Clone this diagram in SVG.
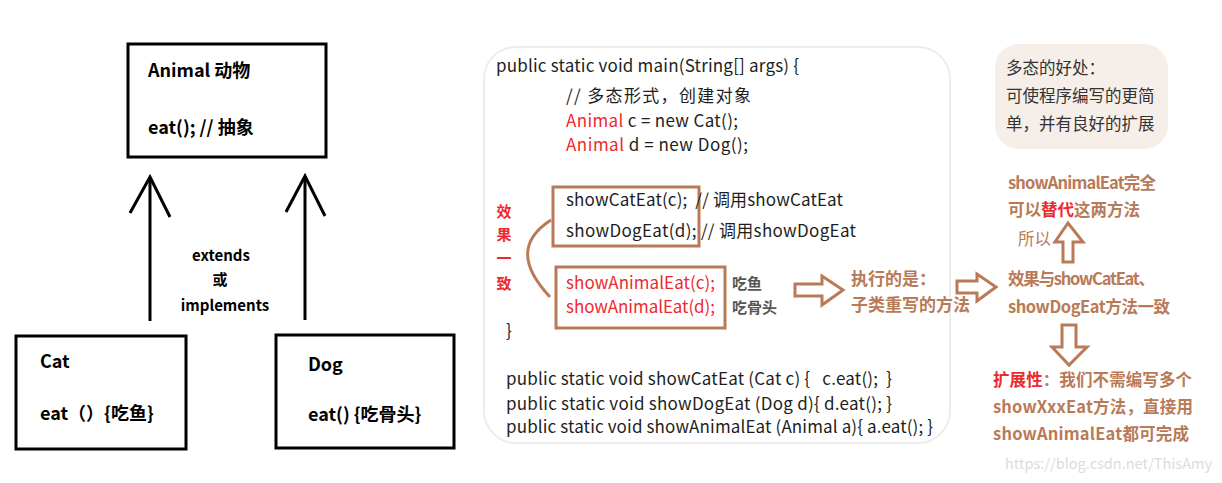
<svg xmlns="http://www.w3.org/2000/svg" width="1222" height="483" viewBox="0 0 1222 483">
<style>
  text { font-family: "Noto Sans CJK SC", "Noto Sans", sans-serif; white-space: pre; }
  .box { fill: #fff; stroke: #000; stroke-width: 3; }
  .bt { font-size: 18px; font-weight: bold; fill: #000; }
  .lbl { font-size: 15px; font-weight: bold; fill: #000; }
  .code { font-size: 17px; fill: #1e1e1e; }
  .red { fill: #ee2a2e; }
  .brown { fill: #b97a57; }
  .bb { font-size: 16.5px; font-weight: bold; fill: #b97a57; }
  .bb17 { font-size: 17px; font-weight: bold; fill: #b97a57; }
  .note { font-size: 16.5px; fill: #333; }
  .small { font-size: 15px; font-weight: bold; fill: #555; }
  .vert { font-size: 15px; font-weight: bold; fill: #ee2a2e; }
  .harrow { fill: #fff; stroke: #b97a57; stroke-width: 3; stroke-linejoin: miter; }
  .bline { fill: none; stroke: #000; stroke-width: 3; }
</style>

<g id="code-panel">
  <rect x="484" y="47" width="466" height="396" rx="32" ry="32" fill="#fff" stroke="#ececec" stroke-width="2"/>
  <text class="code" x="496" y="72" textLength="303" lengthAdjust="spacing">public static void main(String[] args) {</text>
  <text class="code" x="566" y="102" textLength="185" lengthAdjust="spacing">// 多态形式，创建对象</text>
  <text class="code" x="566" y="127" textLength="172" lengthAdjust="spacing"><tspan class="red">Animal</tspan> c = new Cat();</text>
  <text class="code" x="566" y="151" textLength="182" lengthAdjust="spacing"><tspan class="red">Animal</tspan> d = new Dog();</text>
  <rect x="553" y="187" width="146" height="59" fill="none" stroke="#b97a57" stroke-width="3"/>
  <text class="code" x="566" y="206" textLength="277" lengthAdjust="spacing">showCatEat(c);  // 调用showCatEat</text>
  <text class="code" x="566" y="237" textLength="290" lengthAdjust="spacing">showDogEat(d); // 调用showDogEat</text>
  <rect x="556" y="267" width="169" height="61" fill="none" stroke="#b97a57" stroke-width="3"/>
  <text class="code red" x="566" y="289" textLength="149" lengthAdjust="spacing">showAnimalEat(c);</text>
  <text class="code red" x="566" y="313" textLength="149" lengthAdjust="spacing">showAnimalEat(d);</text>
  <text class="small" x="732" y="289">吃鱼</text>
  <text class="small" x="732" y="313">吃骨头</text>
  <text class="code" x="506" y="337">}</text>
  <text class="code" x="506" y="385" textLength="386" lengthAdjust="spacing">public static void showCatEat (Cat c) {   c.eat();  }</text>
  <text class="code" x="506" y="410" textLength="386" lengthAdjust="spacing">public static void showDogEat (Dog d){ d.eat(); }</text>
  <text class="code" x="506" y="433" textLength="427" lengthAdjust="spacing">public static void showAnimalEat (Animal a){ a.eat(); }</text>
</g>

<g id="animal">
  <rect class="box" x="128" y="44" width="198" height="113"/>
  <text class="bt" x="148" y="77">Animal 动物</text>
  <text class="bt" x="148" y="134">eat(); // 抽象</text>
</g>
<g id="cat">
  <rect class="box" x="16" y="336" width="170" height="113"/>
  <text class="bt" x="40" y="368">Cat</text>
  <text class="bt" x="40" y="420">eat（）{吃鱼}</text>
</g>
<g id="dog">
  <rect class="box" x="276" y="335" width="178" height="113"/>
  <text class="bt" x="308" y="371">Dog</text>
  <text class="bt" x="308" y="421">eat() {吃骨头}</text>
</g>

<g id="connectors">
  <line class="bline" x1="150" y1="321" x2="150" y2="178"/>
  <polyline class="bline" points="130,213 150,177 170,217"/>
  <line class="bline" x1="305" y1="320" x2="305" y2="177"/>
  <polyline class="bline" points="286,212 305,176 325,216"/>
  <path d="M551,220 C520,240 520,265 550,297" fill="none" stroke="#b97a57" stroke-width="3"/>
  <polygon class="harrow" points="795,284 822,284 822,276 843,290 822,305 822,296 795,296"/>
  <polygon class="harrow" points="957,281 977,281 977,274 996,287 977,301 977,293 957,293"/>
  <polygon class="harrow" points="1063,262 1063,242 1055,242 1068,223 1083,242 1073,242 1073,262"/>
  <polygon class="harrow" points="1062,325 1076,325 1076,347 1087,347 1069,365 1052,347 1062,347"/>
</g>

<g id="inherit-label">
  <text class="lbl" x="221" y="261" text-anchor="middle">extends</text>
  <text class="lbl" x="220" y="285" text-anchor="middle">或</text>
  <text class="lbl" x="225" y="311" text-anchor="middle">implements</text>
</g>

<g id="same-effect">
  <text class="vert" x="504" y="217" text-anchor="middle">效</text>
  <text class="vert" x="504" y="240" text-anchor="middle">果</text>
  <text class="vert" x="504" y="264" text-anchor="middle">一</text>
  <text class="vert" x="504" y="289" text-anchor="middle">致</text>
</g>

<g id="executes">
  <text class="bb17" x="851" y="285">执行的是：</text>
  <text class="bb17" x="851" y="311">子类重写的方法</text>
</g>

<g id="benefit">
  <rect x="995" y="44" width="173" height="105" rx="24" ry="24" fill="#f6eee9"/>
  <text class="note" x="1006" y="74">多态的好处：</text>
  <text class="note" x="1006" y="102">可使程序编写的更简</text>
  <text class="note" x="1006" y="130">单，并有良好的扩展</text>
</g>

<g id="replace">
  <text class="bb" x="1008" y="189" textLength="148" lengthAdjust="spacing">showAnimalEat完全</text>
  <text class="bb" x="1008" y="216" textLength="132" lengthAdjust="spacing">可以<tspan class="red">替代</tspan>这两方法</text>
  <text x="1018" y="245" font-size="16.5" class="brown">所以</text>
</g>

<g id="consistent">
  <text class="bb" x="1008" y="285" textLength="147" lengthAdjust="spacing">效果与showCatEat、</text>
  <text class="bb" x="1008" y="313" textLength="162" lengthAdjust="spacing">showDogEat方法一致</text>
</g>

<g id="extensibility">
  <text class="bb" x="993" y="386" textLength="199" lengthAdjust="spacing"><tspan class="red">扩展性</tspan>：我们不需编写多个</text>
  <text class="bb" x="993" y="413" textLength="200" lengthAdjust="spacing">showXxxEat方法，直接用</text>
  <text class="bb" x="993" y="440" textLength="196" lengthAdjust="spacing">showAnimalEat都可完成</text>
</g>

<text x="1005" y="469" font-size="14.5" fill="#dcdcdc" textLength="207" lengthAdjust="spacing">https://blog.csdn.net/ThisAmy</text>
</svg>
